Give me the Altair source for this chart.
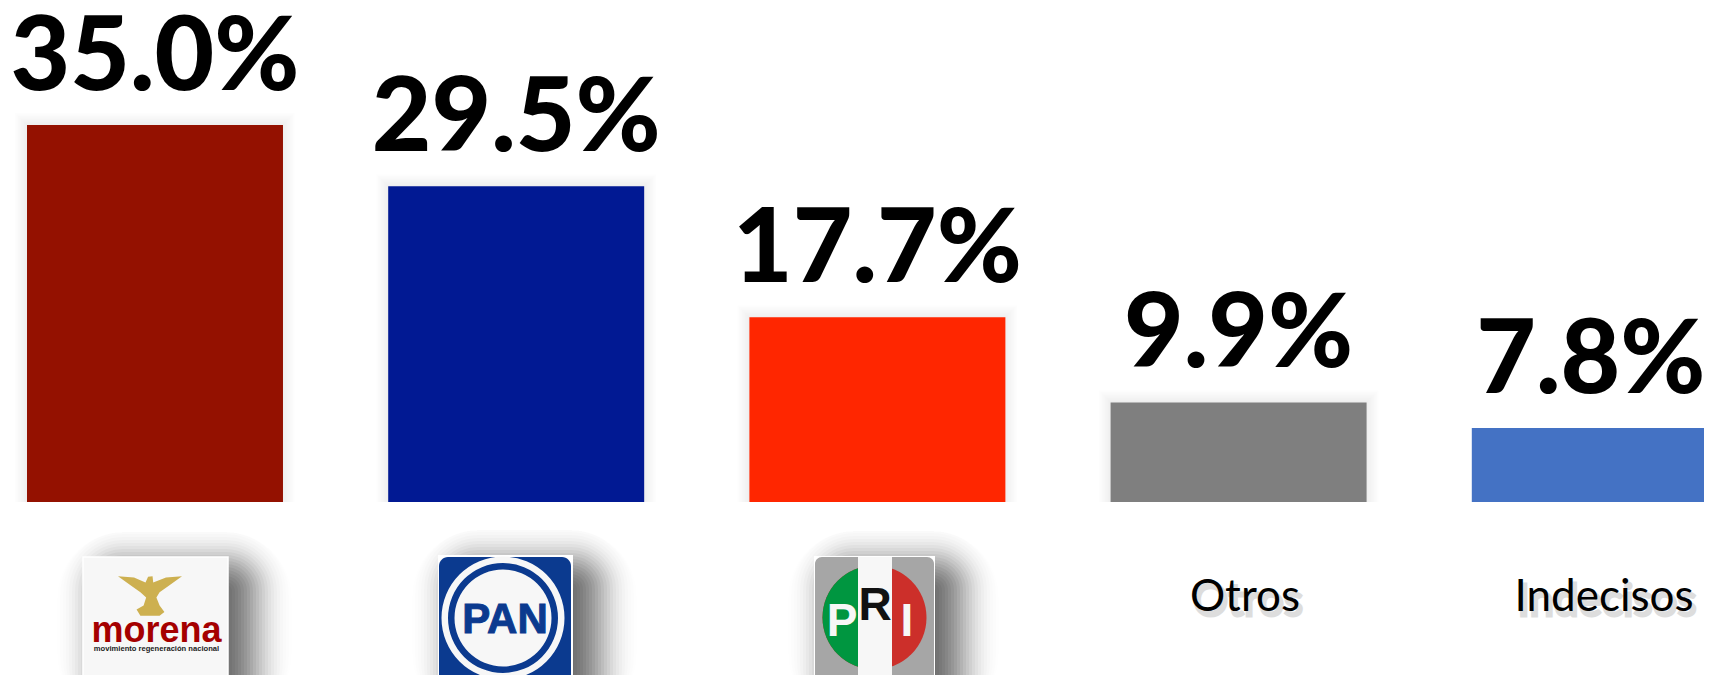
import altair as alt
import math
import pandas as pd

categories = ["morena", "PAN", "PRI", "Otros", "Indecisos"]
bar_values = [35.0, 29.5, 17.75, 10.1, 7.8]
value_labels = ["35.0%", "29.5%", "17.7%", "9.9%", "7.8%"]
bar_colors = ["#941100", "#011993", "#FF2600", "#7F7F7F", "#4472C4"]

df = pd.DataFrame({"cat": categories, "v": bar_values, "label": value_labels, "color": bar_colors})

W, H = 1696, 667
ONE = alt.Data(values=[{}])
FONT = "Lato"
SANS = "Liberation Sans"

def X(p): return alt.value(p - 8)
def Y(p): return alt.value(p - 8)

x_start = 27 - 8
x_step = 361.2
x_enc = alt.X("cat:N", sort=categories, axis=None,
              scale=alt.Scale(domain=categories, range=[x_start, x_start + (5 - 0.2913) * x_step],
                              paddingInner=0.2913, paddingOuter=0))
y_enc = alt.Y("v:Q", axis=None,
              scale=alt.Scale(domain=[1.16, 45.5], range=[502 - 8, 0], clamp=True, zero=False, nice=False))

def box(l, t, r, b, color, **kw):
    return alt.Chart(ONE).mark_rect(color=color, **kw).encode(x=X(l), x2=X(r), y=Y(t), y2=Y(b))

def dot(cx, cy, rad, color):
    return alt.Chart(ONE).mark_circle(size=(2 * rad) ** 2, color=color, opacity=1).encode(x=X(cx), y=Y(cy))

def label(txt, cx, base, size, color, font=SANS, weight="bold", **kw):
    return alt.Chart(ONE).mark_text(text=txt, fontSize=size, font=font, fontWeight=weight, color=color,
                                    align="center", baseline="alphabetic", **kw).encode(x=X(cx), y=Y(base))

def shadow(l, t, r):
    out = []
    for d in range(44, -45, -3):
        op = 0.054 * math.exp(-(d / 28) ** 2)
        out.append(box(max(l + 18 - d, l - 26), max(t + 12 - d, t - 25), r + 20 + d, 720, "#000000",
                       opacity=round(op, 4), cornerRadius=max(d + 22, 4)))
    return out

layers = []

# faint glow around the bars
base = alt.Chart(df[df.cat != "Indecisos"]).encode(x=x_enc, y=y_enc)
for sw in (24, 21, 18, 15, 12, 9, 6, 3):
    layers.append(base.mark_bar(fillOpacity=0, stroke="#000000", strokeOpacity=0.009, strokeWidth=sw))
layers.append(box(0, 502, 1712, 532, "#ffffff"))

# bars
layers.append(alt.Chart(df).mark_bar(clip=True).encode(
    x=x_enc, y=y_enc, color=alt.Color("color:N", scale=None)))

# value labels (the last one is nudged so that it stays inside the page)
text_style = dict(font=FONT, fontWeight=900, fontSize=103, color="#000000", baseline="alphabetic", align="center")
layers.append(alt.Chart(df[df.cat != "Indecisos"]).mark_text(dy=-35, **text_style).encode(
    x=x_enc, y=y_enc, text="label:N"))
layers.append(alt.Chart(df[df.cat == "Indecisos"]).mark_text(dy=-35, dx=-9, **text_style).encode(
    x=x_enc, y=y_enc, text="label:N"))

# morena logo
layers += shadow(83, 557, 228)
layers.append(box(83, 557, 228, 680, "#f7f7f7", stroke="#ffffff", strokeWidth=1.5))
eagle = ("M-1,-.62 L-.5,-.58 L-.14,-.42 L-.06,-.6 L.08,-.62 L.1,-.42 L.5,-.58 L1,-.62 L.62,-.34 L.3,-.12 L.2,.05 "
         "L.3,.3 L.45,.5 L.3,.62 L-.3,.62 L-.42,.42 L-.2,.3 L-.12,.05 L-.3,-.12 L-.62,-.34 Z")
layers.append(alt.Chart(ONE).mark_point(shape=eagle, size=64 ** 2, filled=True, color="#CDB050", opacity=1).encode(
    x=X(150), y=Y(596)))
layers.append(label("morena", 156.5, 642, 36, "#A50000"))
layers.append(label("movimiento regeneración nacional", 156.5, 651, 7.6, "#222222"))

# PAN logo
layers += shadow(438, 555, 573)
layers.append(box(438, 555, 573, 690, "#ffffff"))
layers.append(box(439, 557, 571, 685, "#0B3A8F", cornerRadius=9))
layers.append(dot(503, 618, 61.5, "#f7f7f7"))
layers.append(dot(503, 618, 55, "#0B3A8F"))
layers.append(dot(503, 618, 48.5, "#f7f7f7"))
layers.append(label("PAN", 505, 633, 42, "#0B3A8F", stroke="#0B3A8F", strokeWidth=1))

# PRI logo
layers += shadow(814, 556, 935)
layers.append(box(814, 556, 935, 690, "#ffffff"))
layers.append(box(815, 557, 934, 685, "#A6A6A6", cornerRadius=7))
layers.append(dot(874.5, 617.5, 52, "#CC2F2A"))
layers.append(alt.Chart(ONE).mark_arc(radius=52, theta=3.14159, theta2=6.28318, color="#009640").encode(
    x=X(874.5), y=Y(617.5)))
layers.append(box(858, 557, 892, 680, "#f7f7f7"))
layers.append(label("P", 842, 636, 46, "#f7f7f7"))
layers.append(label("R", 875, 620, 46, "#111111"))
layers.append(label("I", 907, 636, 46, "#f7f7f7"))

# plain category labels with a soft shadow
for txt, cx in (("Otros", 1245), ("Indecisos", 1604)):
    layers.append(label(txt, cx + 3, 616, 44, "#000000", font=FONT, weight="normal",
                        opacity=0.13, stroke="#000000", strokeWidth=3))
    layers.append(label(txt, cx, 611, 44, "#000000", font=FONT, weight="normal"))

chart = alt.layer(*layers).properties(
    width=W, height=H, padding=0, background="#ffffff",
    autosize=alt.AutoSizeParams(type="none"),
).configure_view(stroke=None)

chart.save("out.html", embed_options={"renderer": "svg", "actions": False})
